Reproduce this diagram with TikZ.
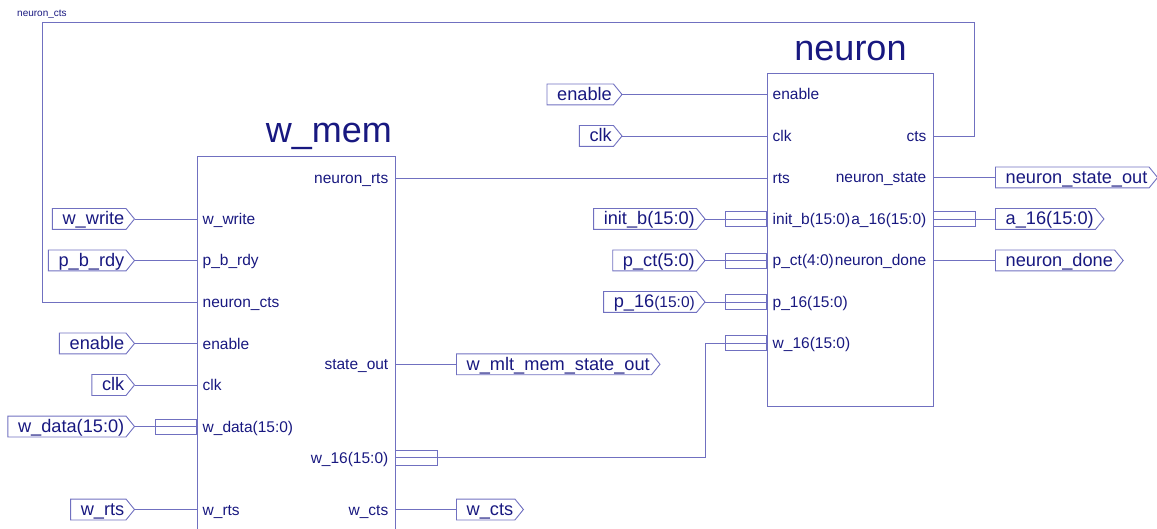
\documentclass[tikz,border=0pt]{standalone}
\usepackage{fontspec}
\setmainfont{Liberation Sans}
\definecolor{txt}{RGB}{24,24,128}
\definecolor{ln}{RGB}{112,112,192}
\newcommand\pinfont{\fontsize{15.5}{18}\selectfont}
\newcommand\portfont{\fontsize{18.2}{21}\selectfont}
\newcommand\titlefont{\fontsize{36}{40}\selectfont}
\newcommand\portoutline[1]{\draw[wire] (#1.north west) -- ([xshift=-8.5pt]#1.north east) -- (#1.east) -- ([xshift=-8.5pt]#1.south east) -- (#1.south west) -- cycle;}
\tikzset{
  wire/.style={draw=ln, line width=0.9pt},
  port/.style={inner xsep=10pt, inner ysep=0pt, minimum height=20.5pt, text height=16pt, text depth=4pt, font=\portfont, text=txt},
  pinl/.style={anchor=west, inner sep=0pt, text height=14pt, text depth=3pt, font=\pinfont, text=txt, xshift=5.5pt},
  pinr/.style={anchor=east, inner sep=0pt, text height=14pt, text depth=3pt, font=\pinfont, text=txt, xshift=-6.5pt},
  busbox/.style={draw=ln, line width=0.9pt, minimum width=41.5pt, minimum height=15pt, inner sep=0pt},
  title/.style={font=\titlefont, text=txt, inner sep=0pt},
}
\begin{document}
\begin{tikzpicture}[x=1pt,y=-1pt]
\useasboundingbox (0,0) rectangle (1157,529);
\begin{scope}
\clip (0,0) rectangle (1157,529);
% ---------- w_mem block ----------
\coordinate (wmTL) at (197,156);
\coordinate (wmBR) at (395,540);
\draw[wire] (197,540) -- (wmTL) -- (395,156) -- (wmBR);
\node[title, anchor=base east] (wmtitle) at (392,143) {w\_mem};
% left pins
\coordinate (wm-wwrite) at (197,219);
\coordinate (wm-pbrdy) at (197,260.5);
\coordinate (wm-ncts) at (197,302);
\coordinate (wm-en) at (197,343.5);
\coordinate (wm-clk) at (197,385);
\coordinate (wm-wdata) at (197,426.5);
\coordinate (wm-wrts) at (197,509.5);
% right pins
\coordinate (wm-nrts) at (395,178);
\coordinate (wm-sout) at (395,364.3);
\coordinate (wm-w16) at (395,457.5);
\coordinate (wm-wcts) at (395,509.5);
\node[pinl] (lwwrite) at (wm-wwrite) {w\_write};
\node[pinl] (lpbrdy) at (wm-pbrdy) {p\_b\_rdy};
\node[pinl] (lncts) at (wm-ncts) {neuron\_cts};
\node[pinl] (len) at (wm-en) {enable};
\node[pinl] (lclk) at (wm-clk) {clk};
\node[pinl] (lwdata) at (wm-wdata) {w\_data(15:0)};
\node[pinl] (lwrts) at (wm-wrts) {w\_rts};
\node[pinr] (lnrts) at (wm-nrts) {neuron\_rts};
\node[pinr] (lsout) at (wm-sout) {state\_out};
\node[pinr] (lw16) at (wm-w16) {w\_16(15:0)};
\node[pinr] (lwcts) at (wm-wcts) {w\_cts};
% ---------- neuron block ----------
\draw[wire] (767,73) rectangle (933,406);
\node[title, anchor=base] (ntitle) at (850.5,61) {neuron};
\coordinate (n-en) at (767,94.5);
\coordinate (n-clk) at (767,136);
\coordinate (n-rts) at (767,178);
\coordinate (n-initb) at (767,219);
\coordinate (n-pct) at (767,260.5);
\coordinate (n-p16) at (767,302);
\coordinate (n-w16) at (767,343.3);
\coordinate (n-cts) at (933,136);
\coordinate (n-nstate) at (933,177.5);
\coordinate (n-a16) at (933,219);
\coordinate (n-ndone) at (933,260.5);
\node[pinl] (nlen) at (n-en) {enable};
\node[pinl] (nlclk) at (n-clk) {clk};
\node[pinl] (nlrts) at (n-rts) {rts};
\node[pinl] (nlinitb) at (n-initb) {init\_b(15:0)};
\node[pinl] (nlpct) at (n-pct) {p\_ct(4:0)};
\node[pinl] (nlp16) at (n-p16) {p\_16(15:0)};
\node[pinl] (nlw16) at (n-w16) {w\_16(15:0)};
\node[pinr] (nlcts) at (n-cts) {cts};
\node[pinr] (nlnstate) at (n-nstate) {neuron\_state};
\node[pinr] (nla16) at (n-a16) {a\_16(15:0)};
\node[pinr] (nlndone) at (n-ndone) {neuron\_done};
% ---------- ports for w_mem ----------
\node[port, anchor=east] (pwwrite) at (134.5,219) {w\_write};
\node[port, anchor=east] (ppbrdy) at (134.5,260.5) {p\_b\_rdy};
\node[port, anchor=east] (pen1) at (134.5,343.5) {enable};
\node[port, anchor=east] (pclk1) at (134.5,385) {clk};
\node[port, anchor=east] (pwdata) at (134.5,426.5) {w\_data(15:0)};
\node[port, anchor=east] (pwrts) at (134.5,509.5) {w\_rts};
\node[port, anchor=west] (psout) at (456.5,364.3) {w\_mlt\_mem\_state\_out};
\node[port, anchor=west] (pwcts) at (456.5,509.5) {w\_cts};
\foreach \p in {pwwrite,ppbrdy,pen1,pclk1,pwdata,pwrts,psout,pwcts} {\portoutline{\p}}
% ---------- ports for neuron ----------
\node[port, anchor=east] (pen2) at (622,94.5) {enable};
\node[port, anchor=east] (pclk2) at (622,136) {clk};
\node[port, anchor=east] (pinitb) at (705,219) {init\_b(15:0)};
\node[port, anchor=east] (ppct) at (705,260.5) {p\_ct(5:0)};
\node[port, anchor=east] (pp16) at (705,302) {p\_16{\pinfont(15:0)}};
\node[port, anchor=west] (pnstate) at (995.5,177.5) {neuron\_state\_out};
\node[port, anchor=west] (pa16) at (995.5,219) {a\_16(15:0)};
\node[port, anchor=west] (pndone) at (995.5,260.5) {neuron\_done};
\foreach \p in {pen2,pclk2,pinitb,ppct,pp16,pnstate,pa16,pndone} {\portoutline{\p}}
% ---------- bus boxes ----------
\node[busbox, anchor=east] (bwdata) at (wm-wdata) {};
\node[busbox, anchor=west] (bw16a) at (wm-w16) {};
\node[busbox, anchor=east] (binitb) at (n-initb) {};
\node[busbox, anchor=east] (bpct) at (n-pct) {};
\node[busbox, anchor=east] (bp16) at (n-p16) {};
\node[busbox, anchor=east] (bw16b) at (n-w16) {};
\node[busbox, anchor=west] (ba16) at (n-a16) {};
% ---------- wires ----------
\draw[wire] (pwwrite.east) -- (wm-wwrite);
\draw[wire] (ppbrdy.east) -- (wm-pbrdy);
\draw[wire] (pen1.east) -- (wm-en);
\draw[wire] (pclk1.east) -- (wm-clk);
\draw[wire] (pwdata.east) -- (wm-wdata);
\draw[wire] (pwrts.east) -- (wm-wrts);
\draw[wire] (wm-sout) -- (psout.west);
\draw[wire] (wm-wcts) -- (pwcts.west);
\draw[wire] (wm-nrts) -- (n-rts);
\draw[wire] (pen2.east) -- (n-en);
\draw[wire] (pclk2.east) -- (n-clk);
\draw[wire] (pinitb.east) -- (n-initb);
\draw[wire] (ppct.east) -- (n-pct);
\draw[wire] (pp16.east) -- (n-p16);
\draw[wire] (n-nstate) -- (pnstate.west);
\draw[wire] (n-a16) -- (pa16.west);
\draw[wire] (n-ndone) -- (pndone.west);
\coordinate (bend) at (705.5,457.5);
\draw[wire] (wm-w16) -- (bend) |- (n-w16);
\coordinate (topR) at (974,22);
\coordinate (topL) at (42,22);
\draw[wire] (n-cts) -| (topR) -- (topL) |- (wm-ncts);
\node[anchor=base west, inner sep=0pt, font=\fontsize{10}{12}\selectfont, text=txt] (nctslabel) at (17,17) {neuron\_cts};
\end{scope}
\end{tikzpicture}
\end{document}
